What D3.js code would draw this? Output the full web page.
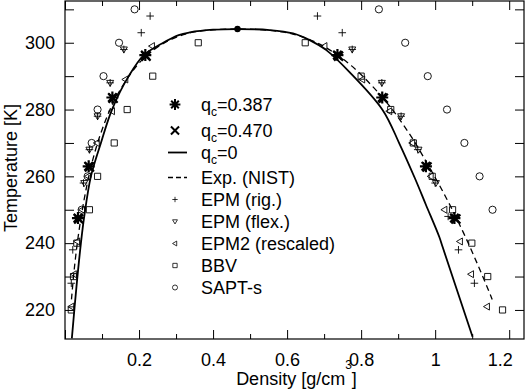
<!DOCTYPE html>
<html>
<head>
<meta charset="utf-8">
<script src="https://cdn.jsdelivr.net/npm/d3@7"></script>
<style>
  body { margin: 0; background: #fff; }
  text { font-family: "Liberation Sans", Arial, Helvetica, sans-serif; }
</style>
</head>
<body>
<svg id="chart" width="525" height="391"></svg>
<script>
// ---- data (density in g/cm3, temperature in K) ----
var xMajorTicks = [0, 0.2, 0.4, 0.6, 0.8, 1.0, 1.2];
var xTickLabels = ["", "0.2", "0.4", "0.6", "0.8", "1", "1.2"];
var xMinorTicks = [0.1, 0.3, 0.5, 0.7, 0.9, 1.1];
var yTicks = [220, 230, 240, 250, 260, 270, 280, 290, 300, 310];
var yTickLabels = [220, 240, 260, 280, 300];

// q_c = 0 (solid curve)
var qc0Rho = [0.0185, 0.031, 0.043, 0.052, 0.070, 0.097, 0.127, 0.172, 0.213, 0.262, 0.307, 0.337, 0.400, 0.466,
              0.553, 0.616, 0.661, 0.706, 0.768, 0.858, 0.903, 0.945, 0.975, 1.011, 1.020, 1.101];
var qc0T   = [211.5, 227.0, 240.0, 248.0, 260.0, 270.0, 280.0, 290.0, 296.3, 299.8, 302.3, 303.1, 303.9, 304.1,
              303.8, 302.8, 300.8, 297.8, 291.3, 279.9, 269.9, 259.5, 251.5, 241.9, 238.9, 212.0];

// Exp. (NIST) (dashed curve)
var nistRho = [0.0175, 0.0259, 0.0371, 0.0519, 0.0708, 0.0975, 0.1354, 0.1942, 0.2428, 0.2900, 0.3457, 0.4676,
               0.5929, 0.6560, 0.7107, 0.7734, 0.8613, 0.9280, 0.9822, 1.0317, 1.0763, 1.1166, 1.1541];
var nistT   = [223.15, 233.15, 243.15, 253.15, 263.15, 273.15, 283.15, 293.15, 298.15, 301.15, 303.15, 304.13,
               303.15, 301.15, 298.15, 293.15, 283.15, 273.15, 263.15, 253.15, 243.15, 233.15, 223.15];

// critical point
var critRho = [0.466];
var critT = [304.1];

// q_c = 0.387 (asterisks)
var qc387T      = [296.3, 283.6, 263.0, 247.5];
var qc387Vapor  = [0.217, 0.128, 0.064, 0.035];
var qc387Liquid = [0.736, 0.857, 0.975, 1.052];

// q_c = 0.470 (crosses)
var qc470T      = [296.0, 283.4, 262.8, 247.2];
var qc470Vapor  = [0.219, 0.130, 0.066, 0.037];
var qc470Liquid = [0.739, 0.860, 0.978, 1.056];

// EPM (rig.)
var epmRigT      = [308, 303, 298, 288, 278, 268, 258, 248, 238, 228];
var epmRigVapor  = [0.230, 0.206, 0.159, 0.122, 0.088, 0.066, 0.050, 0.036, 0.021, 0.017];
var epmRigLiquid = [0.682, 0.749, 0.776, 0.856, 0.908, 0.953, 1.000, 1.035, 1.063, 1.106];

// EPM (flex.)
var epmFlexT      = [298, 288, 278, 268, 258];
var epmFlexVapor  = [0.159, 0.122, 0.088, 0.066, 0.052];
var epmFlexLiquid = [0.776, 0.856, 0.908, 0.955, 1.002];

// EPM2 (rescaled)
var epm2T      = [299, 289, 279.5, 270, 260, 250, 240.5, 230.7, 221];
var epm2Vapor  = [0.235, 0.163, 0.127, 0.086, 0.062, 0.046, 0.033, 0.024, 0.017];
var epm2Liquid = [0.701, 0.803, 0.876, 0.938, 0.988, 1.025, 1.067, 1.097, 1.140];

// BBV
var bbvT      = [300, 290, 280, 270, 260, 250, 240, 230, 220];
var bbvVapor  = [0.360, 0.237, 0.168, 0.133, 0.088, 0.066, 0.032, 0.023, 0.017];
var bbvLiquid = [0.649, 0.800, 0.880, 0.941, 0.992, 1.047, 1.099, 1.142, 1.182];

// SAPT-s
var saptT      = [310, 300, 290, 280, 270, 260, 250];
var saptVapor  = [0.188, 0.146, 0.104, 0.088, 0.072, 0.061, 0.045];
var saptLiquid = [0.848, 0.919, 0.980, 1.032, 1.079, 1.120, 1.155];

var legendLabels = ["q_c=0.387", "q_c=0.470", "q_c=0", "Exp. (NIST)", "EPM (rig.)",
                    "EPM (flex.)", "EPM2 (rescaled)", "BBV", "SAPT-s"];
var legendKinds = ["star", "cross", "solid", "dashed", "plus", "tridown", "trileft", "square", "circle"];

(function () {
    var svg = d3.select("#chart");
    var plotLeft = 65, plotRight = 524, plotTop = 1, plotBottom = 339;
    var fontSize = 18;

    var x = d3.scaleLinear().domain([0, 1.24]).range([plotLeft, plotRight]);
    var y = d3.scaleLinear().domain([211.3, 312.5]).range([plotBottom, plotTop]);

    function styleAxis(g) {
        g.attr("font-family", null).attr("font-size", null);
        g.select(".domain").remove();
        g.selectAll(".tick line").attr("stroke", "#000").attr("stroke-width", 1);
        g.selectAll(".tick text").attr("fill", "#000").style("font-size", fontSize + "px");
    }

    // bottom axis with labels
    svg.append("g")
        .attr("transform", "translate(0," + plotBottom + ")")
        .call(d3.axisBottom(x).tickValues(xMajorTicks).tickSize(-9).tickSizeOuter(0).tickPadding(14)
            .tickFormat(function (d, i) { return xTickLabels[i]; }))
        .call(styleAxis)
        .call(function (g) {
            // last label is pulled in so it stays inside the frame
            g.selectAll(".tick text").filter(function (d) { return d === 1.2; })
                .attr("text-anchor", "end").attr("dx", 3);
        });
    svg.append("g")
        .attr("transform", "translate(0," + plotBottom + ")")
        .call(d3.axisBottom(x).tickValues(xMinorTicks).tickSize(-5).tickSizeOuter(0).tickFormat(""))
        .call(styleAxis);
    // top axis
    svg.append("g")
        .attr("transform", "translate(0," + plotTop + ")")
        .call(d3.axisTop(x).tickValues(xMajorTicks).tickSize(-9).tickSizeOuter(0).tickFormat(""))
        .call(styleAxis);
    svg.append("g")
        .attr("transform", "translate(0," + plotTop + ")")
        .call(d3.axisTop(x).tickValues(xMinorTicks).tickSize(-5).tickSizeOuter(0).tickFormat(""))
        .call(styleAxis);
    // left axis with labels
    svg.append("g")
        .attr("transform", "translate(" + plotLeft + ",0)")
        .call(d3.axisLeft(y).tickValues(yTicks).tickSize(-9).tickSizeOuter(0).tickPadding(10)
            .tickFormat(function (d) { return yTickLabels.indexOf(d) >= 0 ? d : ""; }))
        .call(styleAxis);
    // right axis
    svg.append("g")
        .attr("transform", "translate(" + plotRight + ",0)")
        .call(d3.axisRight(y).tickValues(yTicks).tickSize(-9).tickSizeOuter(0).tickFormat(""))
        .call(styleAxis);

    // frame
    svg.append("rect")
        .attr("x", plotLeft).attr("y", plotTop)
        .attr("width", plotRight - plotLeft).attr("height", plotBottom - plotTop)
        .attr("fill", "none").attr("stroke", "#000").attr("stroke-width", 1.2);

    // axis titles
    svg.append("text")
        .attr("x", (plotLeft + plotRight) / 2 + 2).attr("y", 385)
        .attr("text-anchor", "middle").style("font-size", fontSize + "px")
        .call(function (t) {
            t.append("tspan").text("Density [g/cm");
            t.append("tspan").attr("dy", -16).style("font-size", "12px").text("3");
            t.append("tspan").attr("dy", 16).text("]");
        });
    svg.append("text")
        .attr("transform", "translate(17," + ((plotTop + plotBottom) / 2 - 2) + ") rotate(-90)")
        .attr("text-anchor", "middle").style("font-size", fontSize + "px")
        .text("Temperature [K]");

    // clip for curves
    svg.append("clipPath").attr("id", "plotclip")
        .append("rect").attr("x", plotLeft).attr("y", plotTop)
        .attr("width", plotRight - plotLeft).attr("height", plotBottom - plotTop);

    var plot = svg.append("g").attr("clip-path", "url(#plotclip)");

    function zip(rho, t) {
        return rho.map(function (r, i) { return [r, t[i]]; });
    }

    var line = d3.line()
        .x(function (d) { return x(d[0]); })
        .y(function (d) { return y(d[1]); })
        .curve(d3.curveCatmullRom.alpha(0.5));

    plot.append("path")
        .datum(zip(nistRho, nistT))
        .attr("d", line)
        .attr("fill", "none").attr("stroke", "#000").attr("stroke-width", 1.3)
        .attr("stroke-dasharray", "6,4");

    plot.append("path")
        .datum(zip(qc0Rho, qc0T))
        .attr("d", line)
        .attr("fill", "none").attr("stroke", "#000").attr("stroke-width", 1.8);

    // marker shapes, centred on 0,0
    var shapes = {
        star: function (r) {
            var d = r * Math.SQRT1_2;
            return "M" + (-r) + ",0H" + r + "M0," + (-r) + "V" + r +
                   "M" + (-d) + "," + (-d) + "L" + d + "," + d + "M" + (-d) + "," + d + "L" + d + "," + (-d);
        },
        cross: function (r) {
            return "M" + (-r) + "," + (-r) + "L" + r + "," + r + "M" + (-r) + "," + r + "L" + r + "," + (-r);
        },
        plus: function (r) {
            return "M" + (-r) + ",0H" + r + "M0," + (-r) + "V" + r;
        },
        tridown: function (r) {
            return "M" + (-r) + "," + (-r * 0.7) + "L" + r + "," + (-r * 0.7) + "L0," + r + "Z";
        },
        trileft: function (r) {
            return "M" + (-r) + ",0L" + (r * 0.7) + "," + (-r) + "L" + (r * 0.7) + "," + r + "Z";
        },
        square: function (r) {
            return "M" + (-r) + "," + (-r) + "H" + r + "V" + r + "H" + (-r) + "Z";
        },
        circle: function (r) {
            return "M" + (-r) + ",0A" + r + "," + r + " 0 1,0 " + r + ",0A" + r + "," + r + " 0 1,0 " + (-r) + ",0Z";
        }
    };
    var markerStyle = {
        star:    { r: 6,   w: 2.2 },
        cross:   { r: 4.5, w: 2.2 },
        plus:    { r: 3.8, w: 0.9 },
        tridown: { r: 3.5, w: 0.9 },
        trileft: { r: 3.5, w: 0.9 },
        square:  { r: 3.1, w: 0.9 },
        circle:  { r: 3.6, w: 0.9 }
    };

    function drawPoints(kind, t, vapor, liquid) {
        var pts = zip(vapor, t).concat(zip(liquid, t));
        var st = markerStyle[kind];
        plot.append("g").selectAll("path")
            .data(pts)
            .join("path")
            .attr("transform", function (d) { return "translate(" + x(d[0]) + "," + y(d[1]) + ")"; })
            .attr("d", shapes[kind](st.r))
            .attr("fill", "none").attr("stroke", "#000").attr("stroke-width", st.w);
    }

    drawPoints("circle", saptT, saptVapor, saptLiquid);
    drawPoints("square", bbvT, bbvVapor, bbvLiquid);
    drawPoints("trileft", epm2T, epm2Vapor, epm2Liquid);
    drawPoints("tridown", epmFlexT, epmFlexVapor, epmFlexLiquid);
    drawPoints("plus", epmRigT, epmRigVapor, epmRigLiquid);
    drawPoints("cross", qc470T, qc470Vapor, qc470Liquid);
    drawPoints("star", qc387T, qc387Vapor, qc387Liquid);

    plot.append("g").selectAll("circle")
        .data(zip(critRho, critT))
        .join("circle")
        .attr("cx", function (d) { return x(d[0]); })
        .attr("cy", function (d) { return y(d[1]); })
        .attr("r", 3.2).attr("fill", "#000");

    // legend
    var legend = svg.append("g");
    var legX = 175, legTextX = 201;
    legendLabels.forEach(function (label, i) {
        var cy = 104.5 + 22 * i + (i >= 1 ? 4 : 0) + (i >= 3 ? 3 : 0);
        var kind = legendKinds[i];
        if (kind === "solid" || kind === "dashed") {
            legend.append("line")
                .attr("x1", legX - 7).attr("x2", legX + 12).attr("y1", cy).attr("y2", cy)
                .attr("stroke", "#000")
                .attr("stroke-width", kind === "solid" ? 1.8 : 1.3)
                .attr("stroke-dasharray", kind === "dashed" ? "5,3" : null);
        } else {
            var st = markerStyle[kind];
            var big = kind === "star" || kind === "cross";
            legend.append("path")
                .attr("transform", "translate(" + legX + "," + cy + ")")
                .attr("d", shapes[kind](big ? st.r * 0.9 : st.r * 0.7))
                .attr("fill", "none").attr("stroke", "#000").attr("stroke-width", big ? 2 : 0.8);
        }
        var txt = legend.append("text")
            .attr("x", legTextX).attr("y", cy + 6.5)
            .style("font-size", fontSize + "px");
        var m = label.match(/^q_c(.*)$/);
        if (m) {
            txt.append("tspan").text("q");
            txt.append("tspan").attr("dy", 5).style("font-size", "12px").text("c");
            txt.append("tspan").attr("dy", -5).text(m[1]);
        } else {
            txt.text(label);
        }
    });
})();
</script>
</body>
</html>
